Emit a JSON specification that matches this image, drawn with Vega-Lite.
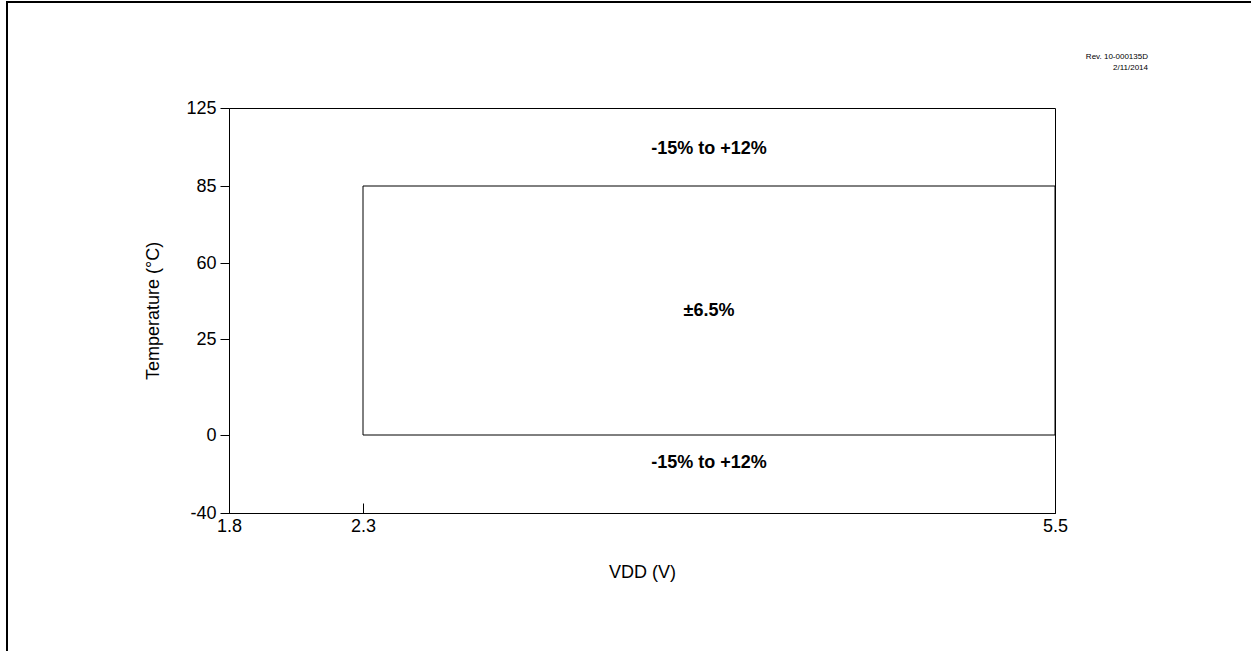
{
  "$schema": "https://vega.github.io/schema/vega-lite/v6.json",
  "autosize": {"type": "none"},
  "padding": {"left": 229, "top": 108, "right": 196, "bottom": 138},
  "width": 826,
  "height": 405,
  "background": "white",
  "config": {
    "font": "Liberation Sans",
    "view": {"stroke": "black", "strokeWidth": 1},
    "axis": {
      "domainColor": "black",
      "tickColor": "black",
      "labelColor": "black",
      "titleColor": "black",
      "labelFont": "Liberation Sans",
      "titleFont": "Liberation Sans",
      "labelFontSize": 18,
      "titleFontSize": 18,
      "titleFontWeight": "normal",
      "grid": false
    }
  },
  "layer": [
    {
      "data": {"values": [{"fx": 0, "fx2": 1, "fy": 0, "fy2": 1}]},
      "mark": {"type": "rect", "filled": false, "stroke": "black", "strokeWidth": 2},
      "encoding": {
        "x": {"field": "fx", "type": "quantitative", "axis": null, "scale": {"domain": [0, 1], "range": [-222, 1033], "nice": false, "zero": false}},
        "x2": {"field": "fx2"},
        "y": {"field": "fy", "type": "quantitative", "axis": null, "scale": {"domain": [0, 1], "range": [-106, 554], "nice": false, "zero": false}},
        "y2": {"field": "fy2"}
      }
    },
    {
      "layer": [
        {
          "data": {"values": [{"V1": 2.3, "V2": 5.5, "T1": 0, "T2": 85}]},
          "mark": {"type": "rect", "filled": false, "stroke": "black", "strokeWidth": 1},
          "encoding": {
            "x": {
              "field": "V1", "type": "quantitative",
              "scale": {"domain": [1.8, 2.3, 5.5], "range": [0, 134, 826], "nice": false, "zero": false},
              "axis": {"orient": "bottom", "title": "VDD (V)", "values": [1.8, 2.3, 5.5], "format": ".1f", "tickSize": -10, "labelPadding": 14, "titlePadding": 28, "labelFlush": false}
            },
            "x2": {"field": "V2"},
            "y": {
              "field": "T1", "type": "quantitative",
              "scale": {"domain": [-40, 0, 25, 60, 85, 125], "range": [405, 327, 231, 155, 78, 0], "nice": false, "zero": false},
              "axis": {"orient": "left", "title": "Temperature (°C)", "values": [-40, 0, 25, 60, 85, 125], "labelExpr": "'' + datum.value", "tickSize": 9, "labelPadding": 4, "titlePadding": 23}
            },
            "y2": {"field": "T2"}
          }
        },
        {
          "data": {"values": [
            {"V": 3.9, "T": 104, "label": "-15% to +12%"},
            {"V": 3.9, "T": 38, "label": "±6.5%"},
            {"V": 3.9, "T": -14.4, "label": "-15% to +12%"}
          ]},
          "mark": {"type": "text", "font": "Liberation Sans", "fontWeight": "bold", "fontSize": 18, "color": "black", "align": "center", "baseline": "middle"},
          "encoding": {
            "x": {"field": "V", "type": "quantitative"},
            "y": {"field": "T", "type": "quantitative"},
            "text": {"field": "label"}
          }
        },
        {
          "data": {"values": [{"V": 5.93, "T": 153, "label": "Rev. 10-000135D\n2/11/2014"}]},
          "mark": {"type": "text", "font": "Liberation Sans", "fontSize": 8, "lineHeight": 11, "lineBreak": "\n", "color": "black", "align": "right", "baseline": "top", "clip": false},
          "encoding": {
            "x": {"field": "V", "type": "quantitative"},
            "y": {"field": "T", "type": "quantitative"},
            "text": {"field": "label"}
          }
        }
      ]
    }
  ],
  "resolve": {"scale": {"x": "independent", "y": "independent"}}
}
